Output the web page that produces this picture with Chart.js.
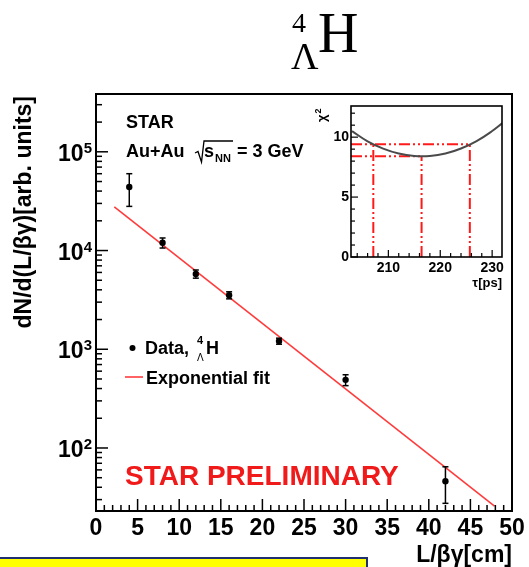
<!DOCTYPE html>
<html>
<head>
<meta charset="utf-8">
<script src="https://cdn.jsdelivr.net/npm/chart.js@4"></script>
<style>
  html, body { margin: 0; padding: 0; background: #fff; }
  #wrap { position: relative; width: 529px; height: 567px; overflow: hidden; background: #fff; }
  #main { position: absolute; left: 0; top: 0; }
  #inset { position: absolute; left: 306px; top: 96px; }
  #note { position: absolute; left: -2px; top: 557px; width: 370px; height: 20px;
          background: #ffff00; border-top: 2px solid #1f2f6f; border-right: 2px solid #1f2f6f;
          box-sizing: border-box; }
</style>
</head>
<body>
<div id="wrap">
  <canvas id="main" width="529" height="567"></canvas>
  <canvas id="inset" width="208" height="196"></canvas>
  <div id="note"></div>
</div>
<script>
// Hypertriton-4 decay-length spectrum (L/βγ) with exponential fit
const decayLength = [4, 8, 12, 16, 22, 30, 42];           // cm
const yieldValues = [44000, 12000, 5800, 3530, 1210, 490, 46];
const yieldErrors = [16000, 1400, 550, 290, 85, 62, 18.5];
const fitLength = [2.2, 47.9];
const fitYield = [27700, 25.7];
const xTickLabels = ['0', '5', '10', '15', '20', '25', '30', '35', '40', '45', '50'];
const yTickExponents = [2, 3, 4, 5];

// chi2 scan of the lifetime fit
const tauScan = [203, 206, 209, 212, 215, 218, 221, 224, 227, 230, 232];   // ps
const chi2Scan = [10.5, 9.65, 9.04, 8.63, 8.43, 8.43, 8.63, 9.05, 9.67, 10.51, 11.18];
const tauBest = 216.4, tauLow = 207.1, tauHigh = 225.7;
const chi2Best = 8.4, chi2Limit = 9.4;
const insetXTicks = [210, 220, 230];
const insetYTicks = [0, 5, 10];

const SANS = '"Liberation Sans", Arial, Helvetica, sans-serif';
const SERIF = '"Liberation Serif", "Times New Roman", serif';

function seg(ctx, x1, y1, x2, y2) {
  ctx.beginPath(); ctx.moveTo(x1, y1); ctx.lineTo(x2, y2); ctx.stroke();
}

const mainDecor = {
  id: 'mainDecor',
  afterDatasetsDraw(chart) {
    const { ctx, scales: { y } } = chart;
    const meta = chart.getDatasetMeta(1);
    ctx.save();
    ctx.strokeStyle = '#000';
    ctx.lineWidth = 1.5;
    meta.data.forEach((pt, i) => {
      const top = y.getPixelForValue(yieldValues[i] + yieldErrors[i]);
      const bot = y.getPixelForValue(yieldValues[i] - yieldErrors[i]);
      seg(ctx, pt.x, top, pt.x, bot);
      seg(ctx, pt.x - 3, top, pt.x + 3, top);
      seg(ctx, pt.x - 3, bot, pt.x + 3, bot);
    });
    ctx.restore();
  },
  afterDraw(chart) {
    const { ctx, chartArea: a, scales: { x, y } } = chart;
    ctx.save();
    ctx.strokeStyle = '#000';
    ctx.fillStyle = '#000';

    // frame
    ctx.lineWidth = 2;
    ctx.strokeRect(a.left, a.top, a.right - a.left, a.bottom - a.top);

    // x ticks (inside)
    ctx.lineWidth = 1.5;
    for (let v = x.min; v <= x.max; v += 1) {
      const px = x.getPixelForValue(v);
      seg(ctx, px, a.bottom, px, a.bottom - (v % 5 === 0 ? 12 : 6));
    }
    // y ticks (log, inside)
    for (let e = 1; e <= 5; e++) {
      for (let k = 1; k <= 9; k++) {
        const v = k * Math.pow(10, e);
        if (v < y.min || v > y.max) continue;
        const py = y.getPixelForValue(v);
        seg(ctx, a.left, py, a.left + (k === 1 ? 12 : 6), py);
      }
    }

    // x tick labels
    ctx.font = 'bold 23px ' + SANS;
    ctx.textAlign = 'center';
    ctx.textBaseline = 'alphabetic';
    xTickLabels.forEach(t => ctx.fillText(t, x.getPixelForValue(Number(t)), 535));

    // y tick labels 10^n
    yTickExponents.forEach(n => {
      const py = y.getPixelForValue(Math.pow(10, n));
      ctx.textAlign = 'right';
      ctx.font = 'bold 15px ' + SANS;
      const ew = ctx.measureText(String(n)).width;
      ctx.fillText(String(n), 92, py + 1);
      ctx.font = 'bold 23px ' + SANS;
      ctx.fillText('10', 92 - ew, py + 9);
    });

    // axis titles
    ctx.font = 'bold 23px ' + SANS;
    ctx.textAlign = 'right';
    ctx.fillText('L/βγ[cm]', 512, 562);
    ctx.save();
    ctx.translate(25, 96);
    ctx.rotate(-Math.PI / 2);
    ctx.textBaseline = 'middle';
    ctx.textAlign = 'right';
    ctx.fillText('dN/d(L/βγ)[arb. units]', 0, 0);
    ctx.restore();

    // title
    ctx.textAlign = 'left';
    ctx.textBaseline = 'alphabetic';
    ctx.font = '56px ' + SERIF;
    ctx.fillText('H', 318, 52);
    ctx.font = '28px ' + SERIF;
    ctx.fillText('4', 292, 32);
    ctx.font = '38px ' + SERIF;
    ctx.fillText('Λ', 291, 69);

    // collision system
    ctx.font = 'bold 18px ' + SANS;
    ctx.fillText('STAR', 126, 128);
    ctx.fillText('Au+Au', 126, 157);
    ctx.lineWidth = 1.3;
    ctx.beginPath();
    ctx.moveTo(195, 153); ctx.lineTo(198, 151.5); ctx.lineTo(201.5, 162);
    ctx.lineTo(204, 141); ctx.lineTo(233, 141);
    ctx.stroke();
    ctx.fillText('s', 204, 157);
    ctx.font = 'bold 11px ' + SANS;
    ctx.fillText('NN', 215, 162);
    ctx.font = 'bold 18px ' + SANS;
    ctx.fillText('= 3 GeV', 237, 157);

    // legend
    ctx.beginPath(); ctx.arc(132.5, 348, 3, 0, Math.PI * 2); ctx.fill();
    ctx.fillText('Data,', 145, 354);
    ctx.font = 'bold 11px ' + SANS;
    ctx.fillText('4', 197, 344);
    ctx.font = '10px ' + SANS;
    ctx.fillText('Λ', 197, 361);
    ctx.font = 'bold 18px ' + SANS;
    ctx.fillText('H', 206, 354);
    ctx.strokeStyle = '#ff3b3b';
    ctx.lineWidth = 1.6;
    seg(ctx, 125, 377, 143, 377);
    ctx.fillText('Exponential fit', 146, 384);

    // preliminary tag
    ctx.fillStyle = '#f01a1a';
    ctx.font = 'bold 28px ' + SANS;
    ctx.fillText('STAR PRELIMINARY', 125, 485);
    ctx.restore();
  }
};

new Chart(document.getElementById('main'), {
  type: 'scatter',
  data: {
    datasets: [
      {
        label: 'Exponential fit',
        data: fitLength.map((v, i) => ({ x: v, y: fitYield[i] })),
        showLine: true, borderColor: '#ff3b3b', borderWidth: 1.6,
        pointRadius: 0, order: 2
      },
      {
        label: 'Data',
        data: decayLength.map((v, i) => ({ x: v, y: yieldValues[i] })),
        pointRadius: 3.2, pointBackgroundColor: '#000', pointBorderWidth: 0,
        order: 1
      }
    ]
  },
  options: {
    responsive: false, animation: false, devicePixelRatio: 1, events: [],
    layout: { padding: { left: 96, top: 94, right: 17, bottom: 56 } },
    plugins: { legend: { display: false }, tooltip: { enabled: false } },
    scales: {
      x: { type: 'linear', min: 0, max: 50, display: false },
      y: { type: 'logarithmic', min: 23, max: 385000, display: false }
    }
  },
  plugins: [mainDecor]
});

// inset: chi2 versus lifetime
const insetDecor = {
  id: 'insetDecor',
  afterDraw(chart) {
    const { ctx, chartArea: a, scales: { x, y } } = chart;
    ctx.save();
    ctx.strokeStyle = '#000';
    ctx.fillStyle = '#000';
    ctx.lineWidth = 1.6;
    ctx.strokeRect(a.left, a.top, a.right - a.left, a.bottom - a.top);
    ctx.lineWidth = 1.2;
    for (let v = 204; v <= x.max; v += 2) {
      const px = x.getPixelForValue(v);
      seg(ctx, px, a.bottom, px, a.bottom - (v % 10 === 0 ? 7 : 4));
    }
    for (let v = 0; v <= y.max; v += 1) {
      const py = y.getPixelForValue(v);
      seg(ctx, a.left, py, a.left + (v % 5 === 0 ? 7 : 4), py);
    }
    ctx.font = 'bold 14px ' + SANS;
    ctx.textAlign = 'center';
    ctx.textBaseline = 'alphabetic';
    insetXTicks.forEach(v => ctx.fillText(String(v), x.getPixelForValue(v), a.bottom + 15));
    ctx.textAlign = 'right';
    ctx.textBaseline = 'middle';
    insetYTicks.forEach(v => ctx.fillText(String(v), a.left - 2, y.getPixelForValue(v)));

    ctx.font = 'bold 13px ' + SANS;
    ctx.textBaseline = 'alphabetic';
    ctx.fillText('τ[ps]', a.right, a.bottom + 30);

    ctx.save();
    ctx.translate(20, 26);
    ctx.rotate(-Math.PI / 2);
    ctx.textAlign = 'left';
    ctx.font = 'bold 13px ' + SANS;
    ctx.fillText('χ', 0, 0);
    const w = ctx.measureText('χ').width;
    ctx.font = 'bold 9px ' + SANS;
    ctx.fillText('2', w + 1, -5);
    ctx.restore();
    ctx.restore();
  }
};

const redLine = (pts) => ({
  data: pts, showLine: true, borderColor: '#ff1a1a', borderWidth: 2,
  borderDash: [11, 3, 2, 3, 2, 3], pointRadius: 0, order: 2
});
const tauAxisMin = 202.8, tauAxisMax = 231.9;

new Chart(document.getElementById('inset'), {
  type: 'scatter',
  data: {
    datasets: [
      {
        data: tauScan.map((v, i) => ({ x: v, y: chi2Scan[i] })),
        showLine: true, borderColor: '#4a4a4a', borderWidth: 2,
        pointRadius: 0, tension: 0.4, order: 1
      },
      redLine([{ x: tauAxisMin, y: chi2Best }, { x: tauBest, y: chi2Best }]),
      redLine([{ x: tauBest, y: 0 }, { x: tauBest, y: chi2Best }]),
      redLine([{ x: tauAxisMin, y: chi2Limit }, { x: tauHigh, y: chi2Limit }]),
      redLine([{ x: tauLow, y: 0 }, { x: tauLow, y: chi2Limit }]),
      redLine([{ x: tauHigh, y: 0 }, { x: tauHigh, y: chi2Limit }])
    ]
  },
  options: {
    responsive: false, animation: false, devicePixelRatio: 1, events: [],
    layout: { padding: { left: 45, top: 10, right: 12, bottom: 35 } },
    plugins: { legend: { display: false }, tooltip: { enabled: false } },
    scales: {
      x: { type: 'linear', min: tauAxisMin, max: tauAxisMax, display: false },
      y: { type: 'linear', min: 0, max: 12.6, display: false }
    }
  },
  plugins: [insetDecor]
});
</script>
</body>
</html>
